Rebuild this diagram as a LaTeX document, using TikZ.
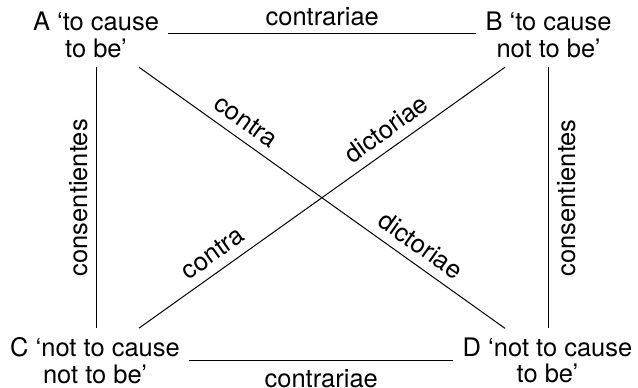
\documentclass[tikz,border=0pt]{standalone}
\usepackage{fontspec}
\setmainfont{TeX Gyre Heros}
\begin{document}
\begin{tikzpicture}[x=1pt,y=1pt,
  every node/.style={font=\fontsize{25.5}{26.5}\selectfont},
  corner/.style={align=center, inner sep=9.5pt, outer sep=0pt},
  edgelabel/.style={inner sep=8pt},
  diaglabel/.style={sloped, above, inner sep=9pt},
  link/.style={line width=1pt}]
\useasboundingbox (0,0) rectangle (638,388);

% the four corners of the square
\node[corner] (A) at (96,353)    {A ‘to cause\\to be’};
\node[corner] (B) at (548.5,353) {B ‘to cause\\not to be’};
\node[corner] (C) at (95,27.4)   {C ‘not to cause\\not to be’};
\node[corner] (D) at (547.5,27.4){D ‘not to cause\\to be’};

% contraries
\draw[link] ([yshift=1pt]A.east) -- node[above, edgelabel]{contrariae} ([yshift=1pt]B.west);
\draw[link] (C.east) -- node[below, edgelabel]{contrariae} (D.west);

% subalterns
\draw[link] (A.south) -- (A.south |- C.north)
  node[midway, rotate=90, anchor=south, edgelabel]{consentientes};
\draw[link] (B.south) -- (B.south |- D.north)
  node[midway, rotate=90, anchor=north, edgelabel]{consentientes};

% contradictories
\draw[link] ([xshift=43pt]A.south) --
  node[diaglabel, pos=0.264]{contra}
  node[diaglabel, pos=0.74]{dictoriae}
  ([xshift=-42.5pt]D.north);
\draw[link] ([xshift=44pt]C.north) --
  node[diaglabel, pos=0.23]{contra}
  node[diaglabel, pos=0.705]{dictoriae}
  ([xshift=-43.5pt]B.south);
\end{tikzpicture}
\end{document}
